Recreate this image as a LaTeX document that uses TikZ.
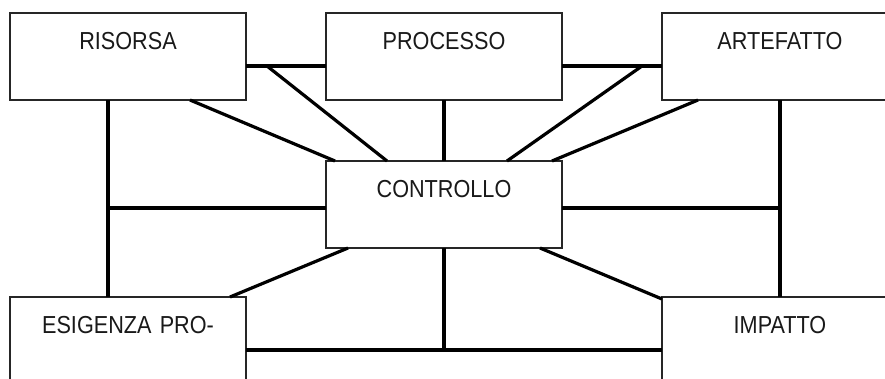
\documentclass[tikz,border=0pt]{standalone}
\usepackage{fontspec}
\setmainfont{Liberation Sans}[FakeStretch=0.88]
\usetikzlibrary{calc}
\newcommand{\lblfont}{\fontsize{24.6}{28}\selectfont}
\begin{document}
\begin{tikzpicture}[x=1pt,y=-1pt,
  box/.style={draw=black!85,line width=1.4pt,inner sep=0pt,outer sep=0pt,
    text width=236pt,align=center,text height=36pt,text depth=51pt,
    anchor=north west,font=\lblfont,text=black!90},
  conn/.style={line width=3.2pt}]
\useasboundingbox (0,0) rectangle (885,378);
\clip (0,0) rectangle (885,378);
% boxes
\node[box] (ris) at (10,13) {RISORSA};
\node[box] (pro) at (326,13) {PROCESSO};
\node[box] (art) at (662,13) {ARTEFATTO};
\node[box] (con) at (326,161) {CONTROLLO};
\node[box] (esi) at (10,297) {ESIGENZA PRO-};
\node[box] (imp) at (662,297) {IMPATTO};
% junction points
\coordinate (j1) at ($(ris.north east)+(21,53)$);
\coordinate (j2) at ($(art.north west)+(-20,53)$);
\coordinate (jl) at ($(ris.south west)+(98,108)$);
\coordinate (jr) at ($(art.south west)+(118,108)$);
\coordinate (jb) at ($(con.south west)+(118,102)$);
% connectors
\draw[conn] ($(ris.north east)+(0,53)$) -- ($(pro.north west)+(0,53)$);
\draw[conn] (j1) -- ($(con.north west)+(61,0)$);
\draw[conn] ($(ris.south west)+(180,0)$) -- ($(con.north west)+(9,0)$);
\draw[conn] ($(ris.south west)+(98,0)$) -- ($(esi.north west)+(98,0)$);
\draw[conn] ($(pro.south west)+(118,0)$) -- ($(con.north west)+(118,0)$);
\draw[conn] ($(pro.north east)+(0,53)$) -- ($(art.north west)+(0,53)$);
\draw[conn] (j2) -- ($(con.north west)+(181,0)$);
\draw[conn] ($(art.south west)+(36,0)$) -- ($(con.north west)+(226,0)$);
\draw[conn] ($(art.south west)+(118,0)$) -- ($(imp.north west)+(118,0)$);
\draw[conn] (jl) -- ($(con.north west)+(0,47)$);
\draw[conn] ($(con.north east)+(0,47)$) -- (jr);
\draw[conn] ($(con.south west)+(22,0)$) -- ($(esi.north east)+(-16,0)$);
\draw[conn] ($(con.south west)+(214,0)$) -- ($(imp.north west)+(0,2)$);
\draw[conn] ($(con.south west)+(118,0)$) -- (jb);
\draw[conn] ($(esi.north east)+(0,53)$) -- ($(imp.north west)+(0,53)$);
\end{tikzpicture}
\end{document}
